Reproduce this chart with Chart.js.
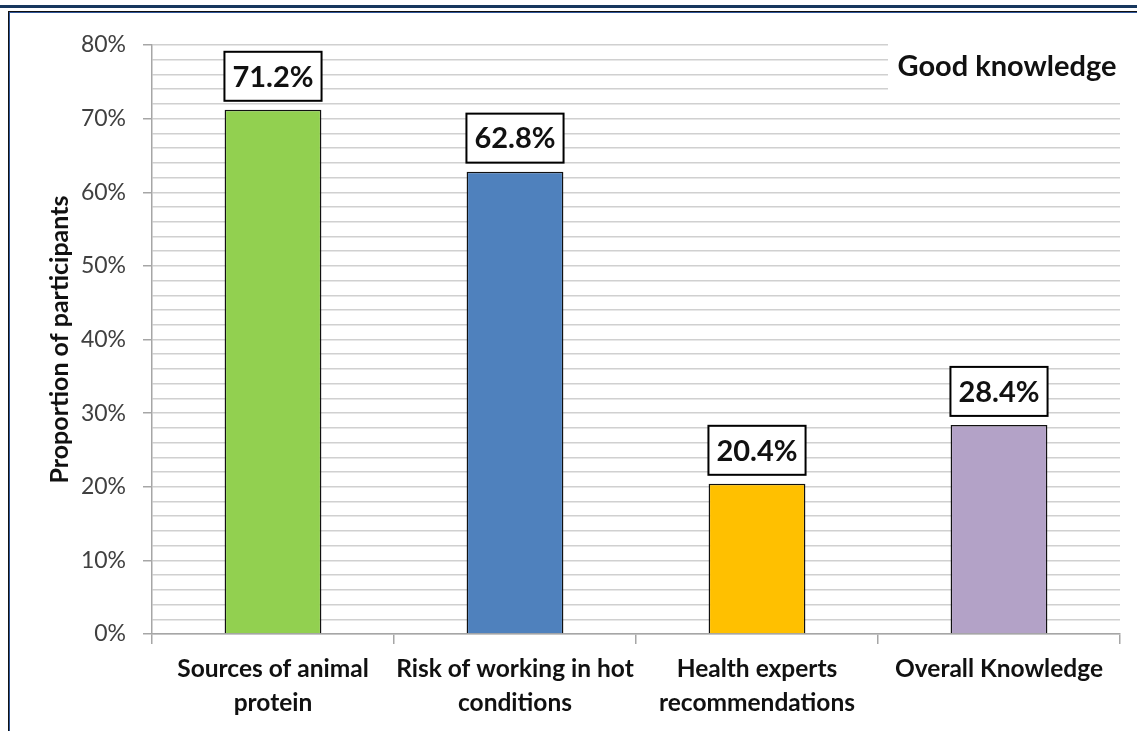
<!DOCTYPE html>
<html>
<head>
<meta charset="utf-8">
<title>Good knowledge</title>
<script src="https://cdn.jsdelivr.net/npm/chart.js@4.4.1/dist/chart.umd.min.js"></script>
<style>
  html, body { margin: 0; padding: 0; background: #fff; }
  #wrap { position: relative; width: 1137px; height: 731px; }
</style>
</head>
<body>
<div id="wrap"><canvas id="chartCanvas" width="1137" height="731"></canvas></div>
<script>
// categories (wrapped the same way as on the axis)
var categories = [
  ['Sources of animal', 'protein'],
  ['Risk of working in hot', 'conditions'],
  ['Health experts', 'recommendations'],
  ['Overall Knowledge']
];
var goodKnowledge = [71.2, 62.8, 20.4, 28.4];
var barColors = ['#92D050', '#4F81BD', '#FFC000', '#B3A2C7'];
var yMax = 80;
var yMinorStep = 2;
var yMajorStep = 10;

Chart.defaults.font.family = 'Lato, "Open Sans", sans-serif';

// frame lines round the figure
var framePlugin = {
  id: 'frame',
  beforeDraw: function (chart) {
    var ctx = chart.ctx;
    ctx.save();
    ctx.fillStyle = '#fff';
    ctx.fillRect(0, 0, chart.width, chart.height);
    ctx.fillStyle = '#17375E';
    ctx.fillRect(0, 5, chart.width, 3);
    ctx.fillStyle = '#111';
    ctx.fillRect(8, 11, chart.width - 8, 1);
    ctx.fillRect(8, 11, 1, chart.height - 11);
    ctx.fillStyle = '#2F5597';
    ctx.fillRect(9, 12, chart.width - 9, 1);
    ctx.fillRect(9, 12, 1, chart.height - 12);
    ctx.restore();
  }
};

// boxed value labels over the bars + the "Good knowledge" caption
var labelPlugin = {
  id: 'boxLabels',
  afterDatasetsDraw: function (chart) {
    var ctx = chart.ctx;
    var area = chart.chartArea;
    ctx.save();

    // caption sits on a white patch over the top gridlines
    ctx.fillStyle = '#fff';
    ctx.fillRect(888, area.top - 6, area.right - 888 + 2, 57);
    ctx.fillStyle = '#111';
    ctx.font = 'bold 29px Lato, "Open Sans", sans-serif';
    ctx.textAlign = 'center';
    ctx.textBaseline = 'middle';
    ctx.fillText('Good knowledge', 1007, 67);

    var meta = chart.getDatasetMeta(0);
    ctx.font = 'bold 29px Lato, "Open Sans", sans-serif';
    meta.data.forEach(function (bar, i) {
      var text = goodKnowledge[i].toFixed(1) + '%';
      var w = ctx.measureText(text).width + 16;
      var h = 49;
      var x = bar.x - w / 2;
      var y = bar.y - 9 - h;
      ctx.fillStyle = '#fff';
      ctx.fillRect(x, y, w, h);
      ctx.lineWidth = 2;
      ctx.strokeStyle = '#000';
      ctx.strokeRect(x, y, w, h);
      ctx.fillStyle = '#111';
      ctx.fillText(text, bar.x, y + h / 2 + 1);
    });
    ctx.restore();
  }
};

var chartLine = new Chart(document.getElementById('chartCanvas').getContext('2d'), {
  type: 'bar',
  data: {
    labels: categories,
    datasets: [{
      data: goodKnowledge,
      backgroundColor: barColors,
      borderColor: '#111',
      borderWidth: 1.5,
      borderSkipped: 'bottom',
      categoryPercentage: 1,
      barPercentage: 0.4
    }]
  },
  options: {
    responsive: false,
    animation: false,
    layout: { padding: { top: 45, right: 17, bottom: 0, left: 0 } },
    plugins: {
      legend: { display: false },
      tooltip: { enabled: false }
    },
    scales: {
      x: {
        afterFit: function (scale) { scale.height = 97; },
        border: { color: '#A6A6A6', width: 1.5 },
        grid: {
          offset: true,
          drawOnChartArea: false,
          drawTicks: true,
          tickLength: 10,
          tickColor: '#A6A6A6',
          lineWidth: 1.5
        },
        ticks: {
          color: '#111',
          padding: 9,
          font: { size: 24.5, weight: 'bold', lineHeight: 1.35 },
          maxRotation: 0,
          autoSkip: false
        }
      },
      y: {
        min: 0,
        max: yMax,
        afterFit: function (scale) { scale.width = 152; },
        border: { color: '#A6A6A6', width: 1.5 },
        grid: {
          color: '#D0D0D0',
          lineWidth: 1.5,
          tickLength: 9,
          tickColor: function (c) {
            return c.tick && c.tick.value % yMajorStep === 0 ? '#A6A6A6' : 'rgba(0,0,0,0)';
          }
        },
        ticks: {
          stepSize: yMinorStep,
          autoSkip: false,
          color: '#404040',
          padding: 17,
          font: { size: 23 },
          callback: function (v) {
            return v % yMajorStep === 0 ? v + '%' : '';
          }
        },
        title: {
          display: true,
          text: 'Proportion of participants',
          color: '#111',
          font: { size: 25, weight: 'bold' },
          padding: { top: 45, bottom: 0 }
        }
      }
    }
  },
  plugins: [framePlugin, labelPlugin]
});
</script>
</body>
</html>
